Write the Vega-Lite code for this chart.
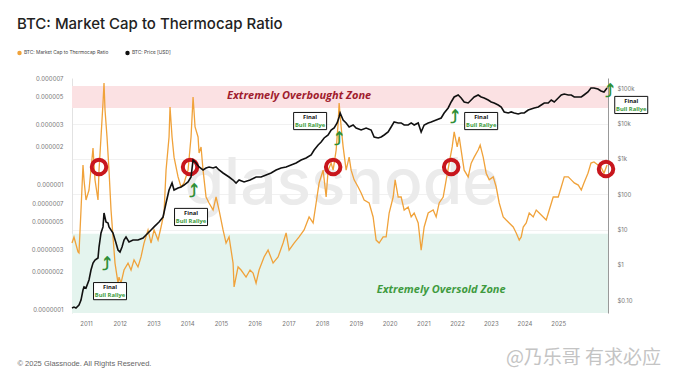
{
  "$schema": "https://vega.github.io/schema/vega-lite/v6.json",
  "width": 536,
  "height": 235,
  "autosize": "none",
  "padding": {"left": 72, "top": 78, "right": 72, "bottom": 70},
  "background": "white",
  "title": {
    "text": "BTC: Market Cap to Thermocap Ratio",
    "anchor": "start",
    "frame": "group",
    "dx": -55,
    "offset": 6,
    "baseline": "alphabetic",
    "font": "Inter",
    "fontSize": 15,
    "fontWeight": 500,
    "color": "#222222"
  },
  "config": {
    "view": {"stroke": null},
    "axis": {"ticks": false, "domain": false, "grid": false, "labelFont": "Inter", "labelFontSize": 6, "labelColor": "#777777", "labelOverlap": false},
    "axisX": {"labelOverlap": false, "tickCount": 30},
    "legend": {
      "orient": "none", "legendX": -55, "legendY": -28, "direction": "horizontal",
      "symbolType": "circle", "symbolSize": 5, "symbolStrokeWidth": 2.2,
      "labelFont": "Inter", "labelFontSize": 4.8, "labelColor": "#444444",
      "columnPadding": 12, "symbolOffset": 0, "labelOffset": 2, "title": null
    }
  },
  "datasets": {
    "ratio": [
      {"t": 2010.585, "v": 3.37e-7}, {"t": 2010.644, "v": 3.77e-7}, {"t": 2010.763, "v": 2.86e-7}, {"t": 2010.792, "v": 2.81e-7},
      {"t": 2010.852, "v": 6.19e-7}, {"t": 2010.911, "v": 1.42e-6}, {"t": 2010.941, "v": 1.08e-6}, {"t": 2011.0, "v": 7.45e-7},
      {"t": 2011.089, "v": 8.95e-7}, {"t": 2011.208, "v": 1.94e-6}, {"t": 2011.267, "v": 1.08e-6}, {"t": 2011.356, "v": 7.45e-7},
      {"t": 2011.386, "v": 1.29e-6}, {"t": 2011.445, "v": 2.38e-6}, {"t": 2011.504, "v": 4.45e-6}, {"t": 2011.534, "v": 6.43e-6},
      {"t": 2011.564, "v": 3.91e-6}, {"t": 2011.623, "v": 2.38e-6}, {"t": 2011.682, "v": 1.29e-6}, {"t": 2011.742, "v": 6.19e-7},
      {"t": 2011.801, "v": 3.77e-7}, {"t": 2011.86, "v": 2.33e-7}, {"t": 2011.949, "v": 1.61e-7}, {"t": 2011.979, "v": 1.8e-7},
      {"t": 2012.038, "v": 1.61e-7}, {"t": 2012.127, "v": 2.05e-7}, {"t": 2012.246, "v": 2.33e-7}, {"t": 2012.335, "v": 2.05e-7},
      {"t": 2012.424, "v": 2.47e-7}, {"t": 2012.542, "v": 2.17e-7}, {"t": 2012.631, "v": 2.61e-7}, {"t": 2012.72, "v": 3.37e-7},
      {"t": 2012.839, "v": 4.29e-7}, {"t": 2012.928, "v": 3.37e-7}, {"t": 2013.017, "v": 4.29e-7}, {"t": 2013.136, "v": 3.56e-7},
      {"t": 2013.225, "v": 4.53e-7}, {"t": 2013.313, "v": 5.86e-7}, {"t": 2013.373, "v": 1.29e-6}, {"t": 2013.462, "v": 2.38e-6},
      {"t": 2013.491, "v": 4.13e-6}, {"t": 2013.551, "v": 2.38e-6}, {"t": 2013.61, "v": 1.64e-6}, {"t": 2013.729, "v": 1.14e-6},
      {"t": 2013.818, "v": 9.46e-7}, {"t": 2013.907, "v": 1.02e-6}, {"t": 2014.025, "v": 1.29e-6}, {"t": 2014.114, "v": 2.38e-6},
      {"t": 2014.174, "v": 4.97e-6}, {"t": 2014.233, "v": 2.86e-6}, {"t": 2014.322, "v": 2.38e-6}, {"t": 2014.352, "v": 1.77e-6},
      {"t": 2014.411, "v": 1.98e-6}, {"t": 2014.47, "v": 1.29e-6}, {"t": 2014.559, "v": 7.87e-7}, {"t": 2014.648, "v": 7.05e-7},
      {"t": 2014.767, "v": 6.19e-7}, {"t": 2014.856, "v": 7.87e-7}, {"t": 2014.945, "v": 6.19e-7}, {"t": 2015.063, "v": 4.29e-7},
      {"t": 2015.152, "v": 3.37e-7}, {"t": 2015.241, "v": 3.77e-7}, {"t": 2015.36, "v": 2.33e-7}, {"t": 2015.39, "v": 1.5e-7},
      {"t": 2015.508, "v": 2.17e-7}, {"t": 2015.597, "v": 2.05e-7}, {"t": 2015.745, "v": 1.8e-7}, {"t": 2015.864, "v": 2.05e-7},
      {"t": 2015.953, "v": 1.94e-7}, {"t": 2016.042, "v": 1.61e-7}, {"t": 2016.131, "v": 2.05e-7}, {"t": 2016.279, "v": 2.61e-7},
      {"t": 2016.398, "v": 2.96e-7}, {"t": 2016.546, "v": 2.33e-7}, {"t": 2016.695, "v": 2.61e-7}, {"t": 2016.843, "v": 3.37e-7},
      {"t": 2016.932, "v": 4.06e-7}, {"t": 2017.021, "v": 2.96e-7}, {"t": 2017.169, "v": 3.37e-7}, {"t": 2017.318, "v": 3.77e-7},
      {"t": 2017.466, "v": 4.29e-7}, {"t": 2017.614, "v": 5.45e-7}, {"t": 2017.733, "v": 4.88e-7}, {"t": 2017.822, "v": 7.05e-7},
      {"t": 2017.911, "v": 1.02e-6}, {"t": 2018.03, "v": 1.29e-6}, {"t": 2018.119, "v": 7.87e-7}, {"t": 2018.178, "v": 1.29e-6},
      {"t": 2018.267, "v": 1.47e-6}, {"t": 2018.327, "v": 1.29e-6}, {"t": 2018.416, "v": 1.87e-6}, {"t": 2018.475, "v": 3.08e-6},
      {"t": 2018.504, "v": 4.45e-6}, {"t": 2018.564, "v": 2.86e-6}, {"t": 2018.623, "v": 1.98e-6}, {"t": 2018.712, "v": 1.29e-6},
      {"t": 2018.801, "v": 1.64e-6}, {"t": 2018.86, "v": 1.29e-6}, {"t": 2018.949, "v": 1.08e-6}, {"t": 2019.068, "v": 9.46e-7},
      {"t": 2019.157, "v": 8.47e-7}, {"t": 2019.246, "v": 7.45e-7}, {"t": 2019.394, "v": 7.05e-7}, {"t": 2019.512, "v": 5.45e-7},
      {"t": 2019.601, "v": 3.56e-7}, {"t": 2019.69, "v": 3.37e-7}, {"t": 2019.809, "v": 3.77e-7}, {"t": 2019.898, "v": 3.77e-7},
      {"t": 2019.987, "v": 5.86e-7}, {"t": 2020.106, "v": 7.87e-7}, {"t": 2020.165, "v": 1.08e-6}, {"t": 2020.254, "v": 7.87e-7},
      {"t": 2020.343, "v": 7.87e-7}, {"t": 2020.432, "v": 6.19e-7}, {"t": 2020.551, "v": 6.55e-7}, {"t": 2020.64, "v": 5.45e-7},
      {"t": 2020.729, "v": 5.86e-7}, {"t": 2020.848, "v": 4.88e-7}, {"t": 2020.936, "v": 2.96e-7}, {"t": 2021.025, "v": 4.53e-7},
      {"t": 2021.144, "v": 5.86e-7}, {"t": 2021.292, "v": 6.19e-7}, {"t": 2021.381, "v": 5.45e-7}, {"t": 2021.47, "v": 7.05e-7},
      {"t": 2021.589, "v": 7.87e-7}, {"t": 2021.678, "v": 1.08e-6}, {"t": 2021.767, "v": 1.47e-6}, {"t": 2021.856, "v": 1.98e-6},
      {"t": 2021.915, "v": 2.61e-6}, {"t": 2022.004, "v": 1.98e-6}, {"t": 2022.063, "v": 2.38e-6}, {"t": 2022.152, "v": 1.64e-6},
      {"t": 2022.211, "v": 1.29e-6}, {"t": 2022.33, "v": 1.14e-6}, {"t": 2022.419, "v": 1.47e-6}, {"t": 2022.508, "v": 1.64e-6},
      {"t": 2022.626, "v": 1.87e-6}, {"t": 2022.686, "v": 2.05e-6}, {"t": 2022.775, "v": 1.64e-6}, {"t": 2022.864, "v": 1.22e-6},
      {"t": 2022.953, "v": 1.08e-6}, {"t": 2023.072, "v": 1.14e-6}, {"t": 2023.161, "v": 9.46e-7}, {"t": 2023.25, "v": 7.05e-7},
      {"t": 2023.368, "v": 5.45e-7}, {"t": 2023.457, "v": 5.15e-7}, {"t": 2023.546, "v": 4.88e-7}, {"t": 2023.665, "v": 4.53e-7},
      {"t": 2023.754, "v": 4.06e-7}, {"t": 2023.843, "v": 3.56e-7}, {"t": 2023.902, "v": 3.77e-7}, {"t": 2023.962, "v": 4.53e-7},
      {"t": 2024.051, "v": 4.88e-7}, {"t": 2024.14, "v": 5.86e-7}, {"t": 2024.258, "v": 5.45e-7}, {"t": 2024.347, "v": 6.19e-7},
      {"t": 2024.436, "v": 5.86e-7}, {"t": 2024.555, "v": 5.45e-7}, {"t": 2024.644, "v": 5.15e-7}, {"t": 2024.733, "v": 6.19e-7},
      {"t": 2024.851, "v": 7.87e-7}, {"t": 2025.0, "v": 7.87e-7}, {"t": 2025.089, "v": 9.46e-7}, {"t": 2025.178, "v": 1.14e-6},
      {"t": 2025.297, "v": 1.14e-6}, {"t": 2025.386, "v": 1.08e-6}, {"t": 2025.475, "v": 1.02e-6}, {"t": 2025.594, "v": 9.8e-7},
      {"t": 2025.683, "v": 8.95e-7}, {"t": 2025.762, "v": 1.02e-6}, {"t": 2025.881, "v": 1.22e-6}, {"t": 2025.97, "v": 1.47e-6},
      {"t": 2026.059, "v": 1.5e-6}, {"t": 2026.178, "v": 1.42e-6}, {"t": 2026.267, "v": 1.37e-6}, {"t": 2026.356, "v": 1.22e-6},
      {"t": 2026.446, "v": 1.42e-6}
    ],
    "price": [
      {"t": 2010.585, "p": 0.0601}, {"t": 2010.644, "p": 0.0641}, {"t": 2010.703, "p": 0.0601}, {"t": 2010.792, "p": 0.0731},
      {"t": 2010.852, "p": 0.101}, {"t": 2010.911, "p": 0.194}, {"t": 2010.941, "p": 0.237}, {"t": 2011.0, "p": 0.221},
      {"t": 2011.089, "p": 0.373}, {"t": 2011.148, "p": 0.717}, {"t": 2011.208, "p": 1.13}, {"t": 2011.267, "p": 1.38},
      {"t": 2011.356, "p": 1.57}, {"t": 2011.386, "p": 3.21}, {"t": 2011.445, "p": 8.01}, {"t": 2011.504, "p": 11.9},
      {"t": 2011.534, "p": 29.5}, {"t": 2011.593, "p": 16.4}, {"t": 2011.653, "p": 15.4}, {"t": 2011.682, "p": 11.9},
      {"t": 2011.801, "p": 8.01}, {"t": 2011.89, "p": 4.17}, {"t": 2011.949, "p": 2.64}, {"t": 2012.008, "p": 2.32},
      {"t": 2012.068, "p": 3.21}, {"t": 2012.127, "p": 5.07}, {"t": 2012.186, "p": 6.17}, {"t": 2012.275, "p": 4.45},
      {"t": 2012.394, "p": 5.07}, {"t": 2012.542, "p": 5.07}, {"t": 2012.691, "p": 5.78}, {"t": 2012.839, "p": 8.01},
      {"t": 2012.928, "p": 9.75}, {"t": 2013.017, "p": 11.9}, {"t": 2013.165, "p": 16.4}, {"t": 2013.284, "p": 22.7},
      {"t": 2013.373, "p": 56.7}, {"t": 2013.462, "p": 132}, {"t": 2013.551, "p": 209}, {"t": 2013.61, "p": 132},
      {"t": 2013.729, "p": 151}, {"t": 2013.818, "p": 161}, {"t": 2013.907, "p": 183}, {"t": 2014.025, "p": 223},
      {"t": 2014.114, "p": 309}, {"t": 2014.174, "p": 937}, {"t": 2014.263, "p": 770}, {"t": 2014.352, "p": 593},
      {"t": 2014.47, "p": 488}, {"t": 2014.559, "p": 556}, {"t": 2014.648, "p": 593}, {"t": 2014.767, "p": 556},
      {"t": 2014.856, "p": 593}, {"t": 2014.945, "p": 488}, {"t": 2015.063, "p": 401}, {"t": 2015.152, "p": 352},
      {"t": 2015.241, "p": 309}, {"t": 2015.36, "p": 254}, {"t": 2015.449, "p": 209}, {"t": 2015.538, "p": 254},
      {"t": 2015.686, "p": 223}, {"t": 2015.864, "p": 254}, {"t": 2016.042, "p": 309}, {"t": 2016.19, "p": 309},
      {"t": 2016.339, "p": 352}, {"t": 2016.487, "p": 401}, {"t": 2016.635, "p": 488}, {"t": 2016.784, "p": 556},
      {"t": 2016.932, "p": 593}, {"t": 2017.08, "p": 676}, {"t": 2017.229, "p": 770}, {"t": 2017.377, "p": 937},
      {"t": 2017.525, "p": 1070}, {"t": 2017.674, "p": 1300}, {"t": 2017.763, "p": 1800}, {"t": 2017.882, "p": 2490},
      {"t": 2017.971, "p": 3030}, {"t": 2018.06, "p": 3940}, {"t": 2018.178, "p": 4790}, {"t": 2018.267, "p": 6630},
      {"t": 2018.356, "p": 7550}, {"t": 2018.445, "p": 10500}, {"t": 2018.504, "p": 15500}, {"t": 2018.534, "p": 20100},
      {"t": 2018.623, "p": 12700}, {"t": 2018.712, "p": 10500}, {"t": 2018.801, "p": 8070}, {"t": 2018.919, "p": 9190},
      {"t": 2019.008, "p": 7550}, {"t": 2019.157, "p": 6630}, {"t": 2019.305, "p": 7550}, {"t": 2019.453, "p": 6630},
      {"t": 2019.542, "p": 4200}, {"t": 2019.661, "p": 3940}, {"t": 2019.75, "p": 4200}, {"t": 2019.839, "p": 4790},
      {"t": 2019.957, "p": 5820}, {"t": 2020.046, "p": 8070}, {"t": 2020.135, "p": 11200}, {"t": 2020.254, "p": 10500},
      {"t": 2020.343, "p": 10500}, {"t": 2020.432, "p": 9190}, {"t": 2020.551, "p": 9190}, {"t": 2020.64, "p": 10500},
      {"t": 2020.729, "p": 9190}, {"t": 2020.848, "p": 10500}, {"t": 2020.936, "p": 5820}, {"t": 2021.025, "p": 9190},
      {"t": 2021.144, "p": 10500}, {"t": 2021.233, "p": 11200}, {"t": 2021.381, "p": 12700}, {"t": 2021.529, "p": 14500},
      {"t": 2021.618, "p": 20100}, {"t": 2021.737, "p": 27900}, {"t": 2021.826, "p": 41200}, {"t": 2021.915, "p": 57100},
      {"t": 2022.033, "p": 65000}, {"t": 2022.122, "p": 53500}, {"t": 2022.211, "p": 41200}, {"t": 2022.33, "p": 38600},
      {"t": 2022.419, "p": 46900}, {"t": 2022.508, "p": 57100}, {"t": 2022.626, "p": 65000}, {"t": 2022.715, "p": 57100},
      {"t": 2022.804, "p": 53500}, {"t": 2022.923, "p": 46900}, {"t": 2023.012, "p": 41200}, {"t": 2023.101, "p": 38600},
      {"t": 2023.22, "p": 33900}, {"t": 2023.309, "p": 29700}, {"t": 2023.398, "p": 21500}, {"t": 2023.517, "p": 20100},
      {"t": 2023.606, "p": 21500}, {"t": 2023.695, "p": 20100}, {"t": 2023.813, "p": 18800}, {"t": 2023.902, "p": 20100},
      {"t": 2023.991, "p": 20100}, {"t": 2024.11, "p": 24400}, {"t": 2024.199, "p": 26100}, {"t": 2024.288, "p": 27900},
      {"t": 2024.407, "p": 29700}, {"t": 2024.496, "p": 33900}, {"t": 2024.585, "p": 38600}, {"t": 2024.703, "p": 38600},
      {"t": 2024.792, "p": 46900}, {"t": 2024.881, "p": 41200}, {"t": 2025.0, "p": 53500}, {"t": 2025.089, "p": 65000},
      {"t": 2025.178, "p": 69400}, {"t": 2025.297, "p": 65000}, {"t": 2025.386, "p": 65000}, {"t": 2025.475, "p": 57100},
      {"t": 2025.594, "p": 57100}, {"t": 2025.683, "p": 57100}, {"t": 2025.762, "p": 65000}, {"t": 2025.881, "p": 79100},
      {"t": 2025.97, "p": 102600}, {"t": 2026.059, "p": 102600}, {"t": 2026.178, "p": 96200}, {"t": 2026.267, "p": 84400},
      {"t": 2026.356, "p": 79100}, {"t": 2026.446, "p": 102600}
    ],
    "zones": [
      {"zone": "overbought", "t0": 2010.585, "t1": 2026.475, "lo": 4.05e-6, "hi": 6.08e-6},
      {"zone": "oversold", "t0": 2010.585, "t1": 2026.475, "lo": 9.29e-8, "hi": 4.0e-7}
    ],
    "circles": [
      {"t": 2011.386, "v": 1.37e-6}, {"t": 2014.085, "v": 1.37e-6}, {"t": 2018.327, "v": 1.37e-6},
      {"t": 2021.826, "v": 1.37e-6}, {"t": 2026.416, "v": 1.32e-6}
    ],
    "arrows": [
      {"t": 2011.593, "v": 2.25e-7}, {"t": 2014.174, "v": 8.63e-7}, {"t": 2018.475, "v": 2.25e-6},
      {"t": 2021.915, "v": 3.37e-6}, {"t": 2026.505, "v": 5.45e-6}
    ],
    "boxes": [
      {"t": 2011.712, "v": 1.39e-7, "a": "Final", "b": "Bull Rallye"},
      {"t": 2014.114, "v": 5.45e-7, "a": "Final", "b": "Bull Rallye"},
      {"t": 2017.644, "v": 3.19e-6, "a": "Final", "b": "Bull Rallye"},
      {"t": 2022.715, "v": 3.19e-6, "a": "Final", "b": "Bull Rallye"},
      {"t": 2027.164, "v": 4.29e-6, "a": "Final", "b": "Bull Rallye"}
    ],
    "zonelabels": [
      {"t": 2017.318, "v": 5.06e-6, "text": "Extremely Overbought Zone", "zone": "overbought"},
      {"t": 2021.53, "v": 1.42e-7, "text": "Extremely Oversold Zone", "zone": "oversold"}
    ],
    "mark": [
      {"t": 2018.593, "v": 9.8e-7, "text": "glassnode"}
    ]
  },
  "layer": [
    {
      "layer": [
        {
          "data": {"name": "zones"},
          "mark": {"type": "rect"},
          "encoding": {
            "x": {
              "field": "t0", "type": "quantitative",
              "scale": {"domain": [2010.585, 2026.475], "nice": false, "zero": false},
              "axis": {
                "values": [2011, 2012, 2013, 2014, 2015, 2016, 2017, 2018, 2019, 2020, 2021, 2022, 2023, 2024, 2025],
                "tickCount": 30,
                "format": "d", "labelPadding": 7, "labelFontSize": 6, "labelOverlap": false,
                "title": "© 2025 Glassnode. All Rights Reserved.",
                "titleX": -55, "titleY": 50, "titleAlign": "left", "titleAnchor": "start", "titleBaseline": "middle",
                "titleFont": "Liberation Sans", "titleFontSize": 7.5, "titleFontWeight": "normal", "titleColor": "#666666"
              }
            },
            "x2": {"field": "t1"},
            "y": {
              "field": "lo", "type": "quantitative",
              "scale": {"type": "log", "domain": [9.29e-8, 7.05e-6], "nice": false},
              "axis": {
                "orient": "left", "title": null,
                "values": [1e-7, 2e-7, 3e-7, 5e-7, 7e-7, 1e-6, 2e-6, 3e-6, 5e-6, 7e-6],
                "tickCount": 30,
                "format": ".7~f", "labelPadding": 9, "labelOverlap": false, "domain": true, "domainColor": "#e2e2e2"
              }
            },
            "y2": {"field": "hi"},
            "fill": {"condition": {"test": "datum.zone == 'overbought'", "value": "#fbe1e3"}, "value": "#e4f4ee"}
          }
        },
        {
          "data": {"name": "mark"},
          "mark": {"type": "text", "font": "Inter", "fontSize": 64, "fontWeight": 500, "color": "#ebebeb", "align": "center", "baseline": "middle"},
          "encoding": {
            "x": {"field": "t", "type": "quantitative", "scale": {"domain": [2010.585, 2026.475], "nice": false, "zero": false}},
            "y": {"field": "v", "type": "quantitative", "scale": {"type": "log", "domain": [9.29e-8, 7.05e-6], "nice": false}},
            "text": {"field": "text"}
          }
        },
        {
          "data": {"name": "ratio"},
          "mark": {"type": "line", "strokeWidth": 1.3, "interpolate": "linear"},
          "encoding": {
            "x": {"field": "t", "type": "quantitative", "scale": {"domain": [2010.585, 2026.475], "nice": false, "zero": false}},
            "y": {"field": "v", "type": "quantitative", "scale": {"type": "log", "domain": [9.29e-8, 7.05e-6], "nice": false}},
            "color": {
              "datum": "BTC: Market Cap to Thermocap Ratio",
              "scale": {"domain": ["BTC: Market Cap to Thermocap Ratio", "BTC: Price [USD]"], "range": ["#f0a23a", "#111111"]}
            }
          }
        },
        {
          "data": {"name": "circles"},
          "mark": {"type": "point", "shape": "circle", "filled": false, "stroke": "#c8161d", "strokeWidth": 4, "size": 210, "opacity": 1},
          "encoding": {
            "x": {"field": "t", "type": "quantitative", "scale": {"domain": [2010.585, 2026.475], "nice": false, "zero": false}},
            "y": {"field": "v", "type": "quantitative", "scale": {"type": "log", "domain": [9.29e-8, 7.05e-6], "nice": false}}
          }
        },
        {
          "data": {"name": "zonelabels"},
          "mark": {"type": "text", "font": "Open Sans", "fontSize": 11, "fontWeight": "bold", "fontStyle": "italic", "align": "center", "baseline": "middle"},
          "encoding": {
            "x": {"field": "t", "type": "quantitative", "scale": {"domain": [2010.585, 2026.475], "nice": false, "zero": false}},
            "y": {"field": "v", "type": "quantitative", "scale": {"type": "log", "domain": [9.29e-8, 7.05e-6], "nice": false}},
            "text": {"field": "text"},
            "fill": {"condition": {"test": "datum.zone == 'overbought'", "value": "#a01c2e"}, "value": "#3f9b3f"}
          }
        },
        {
          "data": {"name": "arrows"},
          "mark": {"type": "text", "text": "⤴", "font": "DejaVu Sans", "fontSize": 18, "fontWeight": "bold", "fill": "#2f8f36", "align": "center", "baseline": "middle"},
          "encoding": {
            "x": {"field": "t", "type": "quantitative", "scale": {"domain": [2010.585, 2026.475], "nice": false, "zero": false}},
            "y": {"field": "v", "type": "quantitative", "scale": {"type": "log", "domain": [9.29e-8, 7.05e-6], "nice": false}}
          }
        },
        {
          "data": {"name": "boxes"},
          "mark": {"type": "point", "shape": "M-1,-0.52H1V0.52H-1Z", "filled": true, "fill": "white", "stroke": "#111111", "strokeWidth": 1, "size": 1089, "opacity": 1},
          "encoding": {
            "x": {"field": "t", "type": "quantitative", "scale": {"domain": [2010.585, 2026.475], "nice": false, "zero": false}},
            "y": {"field": "v", "type": "quantitative", "scale": {"type": "log", "domain": [9.29e-8, 7.05e-6], "nice": false}}
          }
        },
        {
          "data": {"name": "boxes"},
          "mark": {"type": "text", "font": "Open Sans", "fontSize": 5.8, "fontWeight": "bold", "fill": "#111111", "align": "center", "baseline": "middle", "dy": -3.8},
          "encoding": {
            "x": {"field": "t", "type": "quantitative", "scale": {"domain": [2010.585, 2026.475], "nice": false, "zero": false}},
            "y": {"field": "v", "type": "quantitative", "scale": {"type": "log", "domain": [9.29e-8, 7.05e-6], "nice": false}},
            "text": {"field": "a"}
          }
        },
        {
          "data": {"name": "boxes"},
          "mark": {"type": "text", "font": "Open Sans", "fontSize": 5.8, "fontWeight": "bold", "fill": "#3a9a3a", "align": "center", "baseline": "middle", "dy": 3.8},
          "encoding": {
            "x": {"field": "t", "type": "quantitative", "scale": {"domain": [2010.585, 2026.475], "nice": false, "zero": false}},
            "y": {"field": "v", "type": "quantitative", "scale": {"type": "log", "domain": [9.29e-8, 7.05e-6], "nice": false}},
            "text": {"field": "b"}
          }
        }
      ]
    },
    {
      "layer": [
        {
          "data": {"name": "price"},
          "mark": {"type": "line", "strokeWidth": 1.6},
          "encoding": {
            "x": {
              "field": "t", "type": "quantitative",
              "scale": {"domain": [2010.585, 2026.475], "nice": false, "zero": false},
              "axis": {
                "values": [2011, 2012, 2013, 2014, 2015, 2016, 2017, 2018, 2019, 2020, 2021, 2022, 2023, 2024, 2025],
                "tickCount": 30,
                "format": "d", "labelPadding": 7, "labelFontSize": 6, "labelOverlap": false,
                "title": "© 2025 Glassnode. All Rights Reserved.",
                "titleX": -55, "titleY": 50, "titleAlign": "left", "titleAnchor": "start", "titleBaseline": "middle",
                "titleFont": "Liberation Sans", "titleFontSize": 7.5, "titleFontWeight": "normal", "titleColor": "#666666"
              }
            },
            "y": {
              "field": "p", "type": "quantitative",
              "scale": {"type": "log", "domain": [0.0434, 197000], "nice": false},
              "axis": {
                "orient": "right",
                "values": [0.1, 1, 10, 100, 1000, 10000, 100000],
                "tickCount": 30,
                "labelExpr": "datum.value < 1 ? '$0.10' : (datum.value >= 1000 ? '$' + format(datum.value / 1000, 'd') + 'k' : '$' + format(datum.value, 'd'))",
                "labelPadding": 9, "labelOverlap": false, "domain": true, "domainColor": "#999999",
                "grid": true, "gridColor": "#f1f1f1",
                "title": "@乃乐哥 有求必应", "titleAngle": 0, "titleX": -25, "titleY": 279,
                "titleAlign": "center", "titleBaseline": "middle",
                "titleFont": "Noto Sans CJK SC", "titleFontSize": 19, "titleFontWeight": "normal", "titleColor": "#c4c4c4"
              }
            },
            "color": {"datum": "BTC: Price [USD]"}
          }
        }
      ]
    }
  ],
  "resolve": {"scale": {"y": "independent", "color": "shared"}}
}
